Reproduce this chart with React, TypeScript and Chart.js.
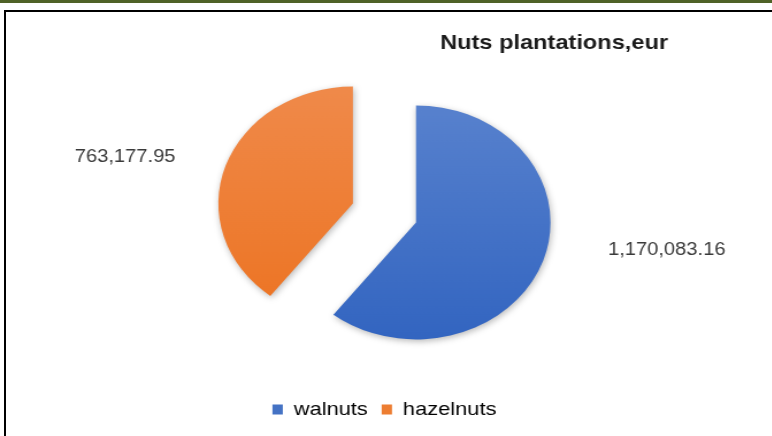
import React, { useEffect, useRef } from 'react';
import { Chart, registerables } from 'chart.js';

Chart.register(...registerables);

// ---- data ----
const categories: string[] = ['walnuts', 'hazelnuts'];
const values: number[] = [1170083.16, 763177.95];
const chartTitle = 'Nuts plantations,eur';

// ---- styles ----
const legendColors = ['#4472C4', '#ED7D31'];
const gradTop = ['#5B84CF', '#F08C4E'];
const gradBottom = ['#2F62BF', '#EC711E'];
const FONT = '"Liberation Sans", Arial, sans-serif';
const STRETCH = 1.15; // the reference picture is horizontally stretched
const CANVAS_W = 672;
const CANVAS_H = 436;
const EXPLODE = 29;

const fmt = (v: number) =>
  v.toLocaleString('en-US', { minimumFractionDigits: 2, maximumFractionDigits: 2 });

// draws every slice pulled out from the centre by the same distance
const explodePlugin = {
  id: 'explodePlugin',
  beforeDatasetDraw(chart: any, args: any) {
    const ctx = chart.ctx;
    ctx.save();
    ctx.shadowColor = 'rgba(0,0,0,0.28)';
    ctx.shadowBlur = 6;
    ctx.shadowOffsetX = 1;
    ctx.shadowOffsetY = 2;
    args.meta.data.forEach((arc: any) => {
      const mid = (arc.startAngle + arc.endAngle) / 2;
      ctx.save();
      ctx.translate(Math.cos(mid) * EXPLODE, Math.sin(mid) * EXPLODE);
      arc.draw(ctx);
      ctx.restore();
    });
    ctx.restore();
    return false;
  },
};

const textPlugin = {
  id: 'textPlugin',
  afterDraw(chart: any) {
    const ctx = chart.ctx;
    const area = chart.chartArea;
    const cx = (area.left + area.right) / 2;
    const cy = (area.top + area.bottom) / 2;
    ctx.save();
    ctx.textAlign = 'center';
    ctx.textBaseline = 'middle';
    // title
    ctx.fillStyle = '#1b1b1b';
    ctx.font = `bold 20.5px ${FONT}`;
    ctx.fillText(chartTitle, cx + 147.5, 43);
    // value labels
    ctx.fillStyle = '#3a3a3a';
    ctx.font = `17.5px ${FONT}`;
    ctx.fillText(fmt(values[0]), cx + 245.5, cy + 37);
    ctx.fillText(fmt(values[1]), cx - 225.5, cy - 56);
    ctx.restore();
  },
};

export default function App() {
  const ref = useRef<HTMLCanvasElement | null>(null);

  useEffect(() => {
    if (!ref.current) return;
    const chart = new Chart(ref.current, {
      type: 'pie',
      data: {
        labels: categories,
        datasets: [
          {
            data: values,
            backgroundColor: (c: any) => {
              const i = c.dataIndex;
              const ch = c.chart;
              const area = ch.chartArea;
              if (!area) return legendColors[i];
              const cy = (area.top + area.bottom) / 2;
              const g = ch.ctx.createLinearGradient(0, cy - 140, 0, cy + 140);
              g.addColorStop(0, gradTop[i]);
              g.addColorStop(1, gradBottom[i]);
              return g;
            },
            borderWidth: 0,
            offset: 0,
            hoverOffset: 0,
            clip: false,
          } as any,
        ],
      },
      options: {
        animation: false,
        responsive: false,
        maintainAspectRatio: false,
        radius: 117,
        layout: { padding: { top: 38, bottom: 7, left: 100, right: 103.4 } },
        plugins: {
          title: { display: false },
          tooltip: { enabled: false },
          legend: {
            display: true,
            position: 'bottom',
            labels: {
              boxWidth: 9,
              boxHeight: 10,
              padding: 12,
              color: '#3a3a3a',
              font: { size: 19, family: FONT },
              generateLabels: () =>
                categories.map((t, i) => ({
                  text: t,
                  fillStyle: legendColors[i],
                  strokeStyle: legendColors[i],
                  lineWidth: 0,
                  hidden: false,
                  index: i,
                })),
            },
          },
        },
      } as any,
      plugins: [explodePlugin, textPlugin],
    });
    return () => chart.destroy();
  }, []);

  return (
    <div
      style={{
        position: 'absolute',
        left: 0,
        top: 0,
        width: 772,
        height: 436,
        background: '#ffffff',
        overflow: 'hidden',
      }}
    >
      <canvas
        ref={ref}
        width={CANVAS_W}
        height={CANVAS_H}
        style={{
          position: 'absolute',
          left: 0,
          top: 0,
          width: CANVAS_W,
          height: CANVAS_H,
          transform: `scaleX(${STRETCH})`,
          transformOrigin: '0 0',
        }}
      />
      <div style={{ position: 'absolute', left: 0, top: 0, width: 772, height: 3, background: '#4F6228' }} />
      <div
        style={{
          position: 'absolute',
          left: 4,
          top: 10,
          width: 772,
          height: 440,
          borderLeft: '2px solid #000',
          borderTop: '2px solid #000',
          boxSizing: 'border-box',
          pointerEvents: 'none',
        }}
      />
    </div>
  );
}
